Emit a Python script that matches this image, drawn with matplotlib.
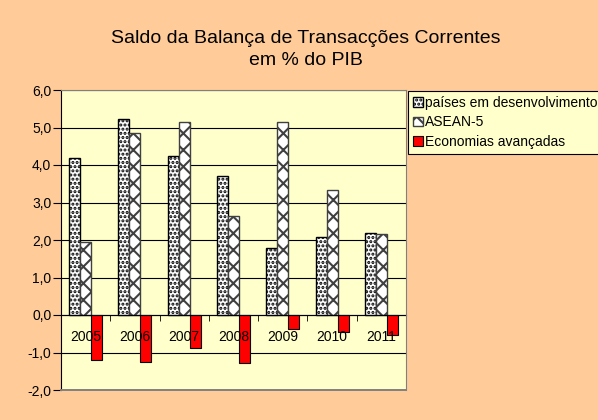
import numpy as np
import matplotlib
matplotlib.use("Agg")
import matplotlib.pyplot as plt
from matplotlib.ticker import FixedLocator, FuncFormatter

plt.rcParams["font.family"] = ["Liberation Sans", "DejaVu Sans"]
plt.rcParams["hatch.linewidth"] = 1.5

years = ["2005", "2006", "2007", "2008", "2009", "2010", "2011"]
dev = [4.18, 5.24, 4.23, 3.72, 1.78, 2.07, 2.20]
asean = [1.94, 4.86, 5.14, 2.65, 5.14, 3.33, 2.15]
adv = [-1.19, -1.25, -0.88, -1.28, -0.38, -0.45, -0.52]
labels = ["países em desenvolvimento", "ASEAN-5", "Economias avançadas"]

PEACH = "#FFCC99"
PALE = "#FFFFCC"

fig = plt.figure(figsize=(5.98, 4.2), dpi=100, facecolor=PEACH)
ax = fig.add_axes([61 / 598, 30 / 420, 345 / 598, 300 / 420])
ax.set_facecolor(PALE)

x = np.arange(len(years))
w = 0.224
b1 = ax.bar(x - w, dev, w, facecolor="white", edgecolor="black",
            hatch="....", linewidth=1.0, label=labels[0], zorder=3)
b2 = ax.bar(x, asean, w, facecolor="white", edgecolor="#404040",
            hatch="xx", linewidth=1.0, label=labels[1], zorder=3)
b3 = ax.bar(x + w, adv, w, facecolor="red", edgecolor="black",
            linewidth=0.8, label=labels[2], zorder=3)

ax.set_xlim(-0.5, len(years) - 0.5)
ax.set_ylim(-2, 6)
ax.set_yticks(np.arange(-2, 6.1, 1))
ax.yaxis.set_major_formatter(FuncFormatter(lambda v, p: f"{v:.1f}".replace(".", ",")))
ax.grid(axis="y", color="black", linewidth=0.8, zorder=0)

for s in ["top", "right"]:
    ax.spines[s].set_color("#808080")
    ax.spines[s].set_zorder(6)
ax.spines["left"].set_color("black")
ax.spines["bottom"].set_position(("data", 0))
ax.spines["bottom"].set_color("black")
ax.spines["bottom"].set_zorder(4)

ax.set_xticks(x)
ax.set_xticklabels(years)
ax.xaxis.set_minor_locator(FixedLocator(np.arange(-0.5, len(years), 1)))
ax.xaxis.set_zorder(5)
ax.tick_params(axis="x", which="major", length=0, pad=11, labelsize=10)
ax.tick_params(axis="x", which="minor", length=4, direction="out")
ax.tick_params(axis="y", length=6, direction="out", labelsize=10, pad=1)

# outer border at the bottom of plot area
ax.axhline(-2, color="#808080", linewidth=1.4, zorder=6, clip_on=False)

fig.text(306 / 598, 1 - 43 / 420, "Saldo da Balança de Transacções Correntes",
         ha="center", va="baseline", fontsize=14)
fig.text(306 / 598, 1 - 65 / 420, "em % do PIB",
         ha="center", va="baseline", fontsize=14)

leg = fig.legend(handles=[b1, b2, b3], loc="upper left",
                 bbox_to_anchor=(408 / 598, 1 - 91 / 420),
                 fontsize=10, frameon=True, fancybox=False,
                 handlelength=0.7, handleheight=0.7, handletextpad=0.2,
                 borderpad=0.35, labelspacing=0.4, borderaxespad=0)
leg.get_frame().set_facecolor(PALE)
leg.get_frame().set_edgecolor("black")
leg.get_frame().set_linewidth(0.8)
leg.get_frame().set_alpha(1)

fig.savefig("out.png", dpi=100, facecolor=PEACH)
